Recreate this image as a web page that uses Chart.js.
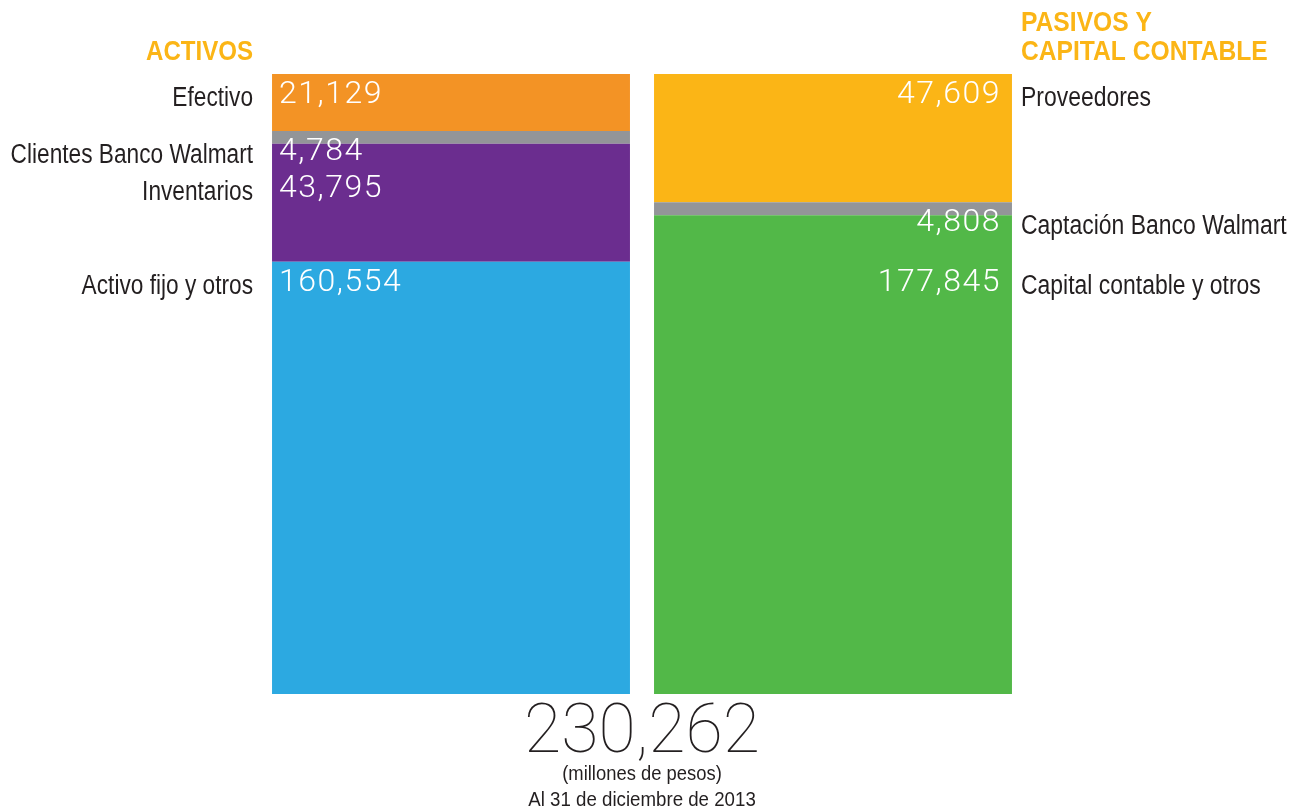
<!DOCTYPE html>
<html>
<head>
<meta charset="utf-8">
<script src="https://cdn.jsdelivr.net/npm/chart.js@4.4.1/dist/chart.umd.min.js"></script>
<style>
  html, body { margin: 0; padding: 0; background: #fff; }
  #wrap { width: 1299px; height: 812px; position: relative; }
</style>
</head>
<body>
<div id="wrap"><canvas id="balanceChart" width="1299" height="812"></canvas></div>
<script>
// datos del balance (millones de pesos)
const columnas = ['ACTIVOS', 'PASIVOS Y CAPITAL CONTABLE'];

const activosNombres = ['Efectivo', 'Clientes Banco Walmart', 'Inventarios', 'Activo fijo y otros'];
const activosValores = [21129, 4784, 43795, 160554];
const activosColores = ['#f39325', '#939598', '#6b2d8f', '#2ca9e1'];

const pasivosNombres = ['Proveedores', 'Captación Banco Walmart', 'Capital contable y otros'];
const pasivosValores = [47609, 4808, 177845];
const pasivosColores = ['#fbb516', '#939598', '#52b848'];

const notaUnidad = '(millones de pesos)';
const notaFecha = 'Al 31 de diciembre de 2013';

const fmt = (n) => n.toLocaleString('en-US');
const sans = '"Liberation Sans", Arial, sans-serif';

// texto angosto: Liberation Sans comprimida en x
function textoAngosto(ctx, txt, x, y, escala) {
    ctx.save();
    ctx.translate(x, y);
    ctx.scale(escala, 1);
    ctx.fillText(txt, 0, 0);
    ctx.restore();
}

// stacked: el primer dataset queda abajo, por eso se invierte el orden
const datasets = [];
for (let i = activosValores.length - 1; i >= 0; i--) {
    datasets.push({
        label: activosNombres[i],
        data: [activosValores[i], null],
        backgroundColor: activosColores[i],
        lado: 0,
    });
}
for (let i = pasivosValores.length - 1; i >= 0; i--) {
    datasets.push({
        label: pasivosNombres[i],
        data: [null, pasivosValores[i]],
        backgroundColor: pasivosColores[i],
        lado: 1,
    });
}

const etiquetas = {
    id: 'etiquetas',
    afterDatasetsDraw(chart) {
        const ctx = chart.ctx;
        const area = chart.chartArea;
        const lados = [[], []];
        chart.data.datasets.forEach((ds, d) => {
            const bar = chart.getDatasetMeta(d).data[ds.lado];
            if (!bar) return;
            lados[ds.lado].push({ nombre: ds.label, valor: ds.data[ds.lado], top: bar.y, bar: bar });
        });
        // de arriba hacia abajo, sin encimar renglones
        lados.forEach((l) => l.sort((a, b) => a.top - b.top));
        lados.forEach((l) => {
            let prev = -999;
            l.forEach((e) => {
                e.y = Math.max(e.top, prev + 37);
                prev = e.y;
            });
        });
        // ultimo renglon alineado en las dos columnas
        const ultimo = Math.max(lados[0][lados[0].length - 1].y, lados[1][lados[1].length - 1].y);
        lados[0][lados[0].length - 1].y = ultimo;
        lados[1][lados[1].length - 1].y = ultimo;

        ctx.save();
        ctx.textBaseline = 'alphabetic';
        lados.forEach((l, lado) => {
            l.forEach((e) => {
                const izq = e.bar.x - e.bar.width / 2;
                const der = e.bar.x + e.bar.width / 2;
                // valor dentro de la barra
                ctx.fillStyle = '#ffffff';
                ctx.font = '300 32px Roboto, "Open Sans", sans-serif';
                ctx.letterSpacing = '1.5px';
                if (lado == 0) {
                    ctx.textAlign = 'left';
                    ctx.fillText(fmt(e.valor), izq + 7, e.y + 29);
                } else {
                    ctx.textAlign = 'right';
                    ctx.fillText(fmt(e.valor), der - 11, e.y + 29);
                }
                // nombre fuera de la barra
                ctx.letterSpacing = '0px';
                ctx.fillStyle = '#231f20';
                ctx.font = '27px ' + sans;
                if (lado == 0) {
                    ctx.textAlign = 'right';
                    textoAngosto(ctx, e.nombre, izq - 19, e.y + 32, 0.84);
                } else {
                    ctx.textAlign = 'left';
                    textoAngosto(ctx, e.nombre, der + 9, e.y + 32, 0.85);
                }
            });
        });

        // titulos
        const barIzq = lados[0][0].bar;
        const barDer = lados[1][0].bar;
        ctx.fillStyle = '#fbb516';
        ctx.font = 'bold 28px ' + sans;
        ctx.textAlign = 'right';
        textoAngosto(ctx, columnas[0], barIzq.x - barIzq.width / 2 - 19, area.top - 14, 0.86);
        ctx.textAlign = 'left';
        const partes = ['PASIVOS Y', 'CAPITAL CONTABLE'];
        textoAngosto(ctx, partes[0], barDer.x + barDer.width / 2 + 9, area.top - 43, 0.88);
        textoAngosto(ctx, partes[1], barDer.x + barDer.width / 2 + 9, area.top - 14, 0.88);

        // total abajo
        const total = activosValores.reduce((a, b) => a + b, 0);
        const centro = (barIzq.x + barDer.x) / 2;
        ctx.textAlign = 'center';
        ctx.fillStyle = '#231f20';
        ctx.font = '100 68px Roboto, sans-serif';
        ctx.fillText(fmt(total), centro, area.bottom + 58);
        ctx.font = '20px ' + sans;
        textoAngosto(ctx, notaUnidad, centro, area.bottom + 86, 0.92);
        ctx.font = '21px ' + sans;
        textoAngosto(ctx, notaFecha, centro, area.bottom + 112, 0.89);
        ctx.restore();
    },
};

new Chart(document.getElementById('balanceChart'), {
    type: 'bar',
    data: {
        labels: columnas,
        datasets: datasets,
    },
    options: {
        responsive: false,
        animation: false,
        layout: {
            padding: { left: 260, right: 275, top: 74, bottom: 118 },
        },
        plugins: {
            legend: { display: false },
            tooltip: { enabled: false },
        },
        datasets: {
            bar: {
                categoryPercentage: 1,
                barPercentage: 0.937,
                borderWidth: 0,
                borderSkipped: false,
            },
        },
        scales: {
            x: { stacked: true, display: false },
            y: {
                stacked: true,
                display: false,
                min: 0,
                max: 230262,
            },
        },
    },
    plugins: [etiquetas],
});
</script>
</body>
</html>
